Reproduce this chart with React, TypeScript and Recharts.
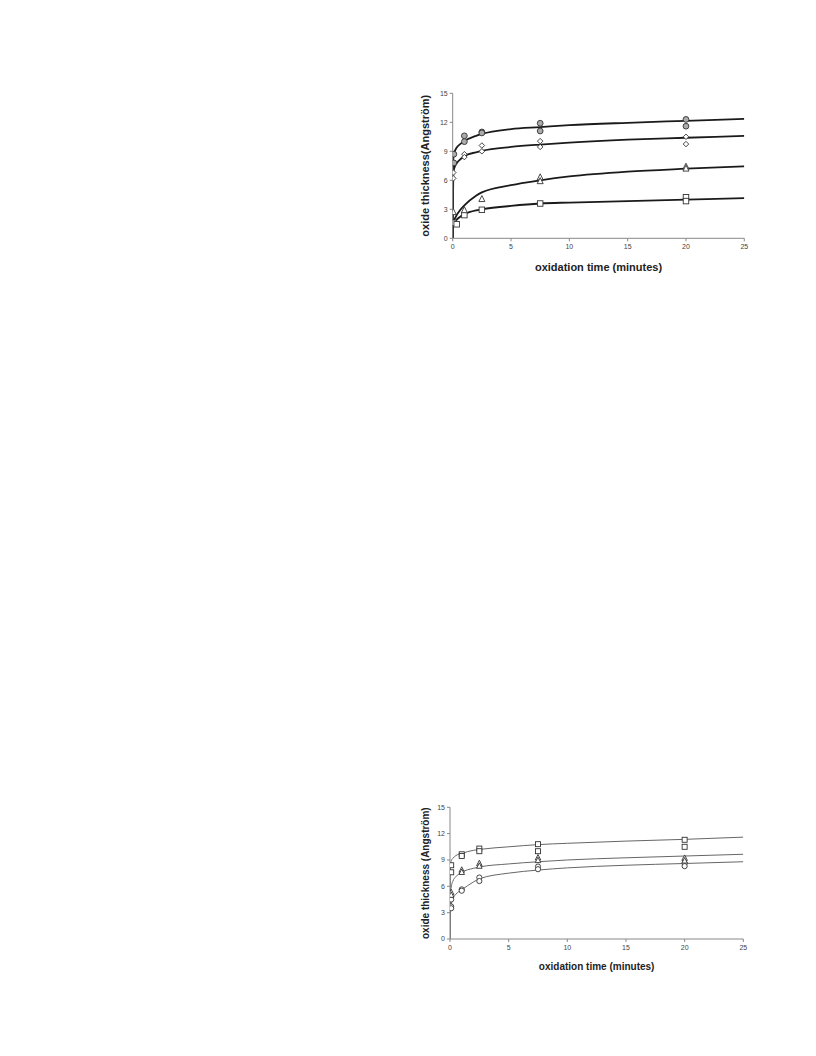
import React from "react";
import { ComposedChart, Line, Scatter, XAxis, YAxis } from "recharts";

// fitted curves, sampled along time (minutes)
const curveTimes = [0, 0.05, 0.1, 0.25, 0.5, 1, 2, 2.5, 5, 7.5, 10, 15, 20, 25];

const topCircleFit = [0, 8.2, 8.7, 9.2, 9.6, 10.05, 10.6, 10.8, 11.3, 11.5, 11.7, 11.95, 12.15, 12.35];
const topDiamondFit = [0, 6.7, 7.1, 7.6, 8.0, 8.5, 8.9, 9.05, 9.45, 9.7, 9.9, 10.2, 10.4, 10.6];
const topTriangleFit = [0, 1.5, 1.8, 2.2, 2.7, 3.4, 4.4, 4.75, 5.5, 6.0, 6.4, 6.9, 7.2, 7.45];
const topSquareFit = [0, 1.3, 1.5, 1.8, 2.1, 2.5, 2.9, 3.0, 3.35, 3.6, 3.7, 3.85, 4.0, 4.15];

const bottomSquareFit = [0, 8.4, 8.9, 9.2, 9.5, 9.75, 10.1, 10.2, 10.5, 10.75, 10.9, 11.15, 11.35, 11.6];
const bottomTriangleFit = [0, 5.3, 5.9, 6.6, 7.1, 7.6, 8.05, 8.2, 8.55, 8.8, 9.0, 9.25, 9.45, 9.65];
const bottomCircleFit = [0, 3.4, 3.9, 4.6, 5.1, 5.6, 6.5, 6.85, 7.5, 7.85, 8.1, 8.4, 8.6, 8.8];

// measured points
const topCircleT = [0.1, 0.1, 1, 1, 2.5, 2.5, 7.5, 7.5, 20, 20];
const topCircleY = [8.7, 7.8, 10.6, 10.0, 11.0, 10.9, 11.9, 11.1, 12.3, 11.6];
const topDiamondT = [0.05, 0.05, 1, 1, 2.5, 2.5, 7.5, 7.5, 20, 20];
const topDiamondY = [6.8, 6.2, 8.7, 8.4, 9.6, 9.0, 10.05, 9.45, 10.5, 9.75];
const topTriangleT = [0.05, 1, 2.5, 7.5, 7.5, 20, 20];
const topTriangleY = [2.7, 2.9, 4.05, 6.3, 5.9, 7.4, 7.2];
const topSquareT = [0.06, 0.34, 1, 2.5, 7.5, 20, 20];
const topSquareY = [1.6, 1.45, 2.4, 2.95, 3.6, 4.25, 3.85];

const bottomSquareT = [0.1, 0.1, 1, 1, 2.5, 2.5, 7.5, 7.5, 20, 20];
const bottomSquareY = [8.4, 7.6, 9.65, 9.45, 10.3, 10.0, 10.8, 10.0, 11.3, 10.5];
const bottomTriangleT = [0.1, 0.1, 1, 1, 2.5, 2.5, 7.5, 7.5, 20, 20];
const bottomTriangleY = [5.3, 5.0, 7.85, 7.6, 8.6, 8.3, 9.25, 8.95, 9.2, 8.9];
const bottomCircleT = [0.1, 0.1, 0.1, 1, 1, 2.5, 2.5, 7.5, 7.5, 20, 20];
const bottomCircleY = [4.5, 3.7, 3.5, 5.65, 5.5, 7.0, 6.6, 8.25, 7.95, 8.6, 8.3];

const xTicks = [0, 5, 10, 15, 20, 25];
const yTicks = [0, 3, 6, 9, 12, 15];

const FONT = "'Liberation Sans', Arial, sans-serif";

const pts = (t: number[], y: number[]) => t.map((x, i) => ({ x, y: y[i] }));

const circle = (fill: string, stroke: string, r: number) => (p: any) =>
  <circle cx={p.cx} cy={p.cy} r={r} fill={fill} stroke={stroke} strokeWidth={0.9} />;
const square = (stroke: string, s: number) => (p: any) =>
  <rect x={p.cx - s / 2} y={p.cy - s / 2} width={s} height={s} fill="#fff" stroke={stroke} strokeWidth={0.9} />;
const triangle = (stroke: string, s: number) => (p: any) =>
  <polygon
    points={`${p.cx},${p.cy - s * 0.6} ${p.cx - s / 2},${p.cy + s * 0.4} ${p.cx + s / 2},${p.cy + s * 0.4}`}
    fill="#fff" stroke={stroke} strokeWidth={0.9} />;
const diamond = (stroke: string, s: number) => (p: any) =>
  <polygon
    points={`${p.cx},${p.cy - s / 2} ${p.cx + s / 2},${p.cy} ${p.cx},${p.cy + s / 2} ${p.cx - s / 2},${p.cy}`}
    fill="#fff" stroke={stroke} strokeWidth={0.9} />;

interface PanelProps {
  left: number;
  top: number;
  width: number;
  height: number;
  margin: { top: number; right: number; left: number; bottom: number };
  yAxisWidth: number;
  xAxisHeight: number;
  yTitle: string;
  titleSize: number;
  yTitleDx: number;
  curves: number[][];
  curveStroke: string;
  curveWidth: number;
  markers: Array<{ data: { x: number; y: number }[]; shape: any }>;
}

function Panel(props: PanelProps) {
  const tickStyle = { fontSize: 7, fill: "#444", fontFamily: FONT };
  return (
    <div style={{ position: "absolute", left: props.left, top: props.top }}>
      <ComposedChart width={props.width} height={props.height} margin={props.margin}>
        <XAxis
          type="number"
          dataKey="x"
          domain={[0, 25]}
          ticks={xTicks}
          height={props.xAxisHeight}
          stroke="#888"
          tickSize={3}
          tickMargin={3}
          tick={tickStyle}
          allowDataOverflow
          label={{
            value: "oxidation time (minutes)",
            position: "insideBottom",
            offset: 0,
            style: { fontSize: props.titleSize, fontWeight: "bold", fill: "#222", fontFamily: FONT },
          }}
        />
        <YAxis
          type="number"
          dataKey="y"
          domain={[0, 15]}
          ticks={yTicks}
          width={props.yAxisWidth}
          stroke="#888"
          tickSize={3}
          tickMargin={2}
          tick={tickStyle}
          allowDataOverflow
          label={{
            value: props.yTitle,
            angle: -90,
            position: "center",
            dx: props.yTitleDx,
            style: { fontSize: props.titleSize, fontWeight: "bold", fill: "#222", fontFamily: FONT, textAnchor: "middle" },
          }}
        />
        {props.curves.map((c, i) => (
          <Line
            key={`fit-${i}`}
            data={pts(curveTimes, c)}
            dataKey="y"
            type="monotone"
            stroke={props.curveStroke}
            strokeWidth={props.curveWidth}
            dot={false}
            activeDot={false}
            isAnimationActive={false}
          />
        ))}
        {props.markers.map((m, i) => (
          <Scatter key={`pts-${i}`} data={m.data} dataKey="y" shape={m.shape} isAnimationActive={false} />
        ))}
      </ComposedChart>
    </div>
  );
}

export default function App() {
  const dark = "#333";
  return (
    <div style={{ position: "absolute", left: 0, top: 0, width: 816, height: 1056, background: "#fff" }}>
      <Panel
        left={400}
        top={85}
        width={360}
        height={200}
        margin={{ top: 8.3, right: 15.7, left: 0, bottom: 13.7 }}
        yAxisWidth={52.7}
        xAxisHeight={33}
        yTitle="oxide thickness(Angström)"
        titleSize={11}
        yTitleDx={-1.3}
        curves={[topCircleFit, topDiamondFit, topTriangleFit, topSquareFit]}
        curveStroke="#1a1a1a"
        curveWidth={1.8}
        markers={[
          { data: pts(topSquareT, topSquareY), shape: square(dark, 5.5) },
          { data: pts(topTriangleT, topTriangleY), shape: triangle(dark, 6) },
          { data: pts(topDiamondT, topDiamondY), shape: diamond(dark, 5.5) },
          { data: pts(topCircleT, topCircleY), shape: circle("#aaa", dark, 2.9) },
        ]}
      />
      <Panel
        left={400}
        top={795}
        width={360}
        height={190}
        margin={{ top: 12.3, right: 16.7, left: 0, bottom: 15.5 }}
        yAxisWidth={50}
        xAxisHeight={30.5}
        yTitle="oxide thickness (Angström)"
        titleSize={10}
        yTitleDx={0}
        curves={[bottomSquareFit, bottomTriangleFit, bottomCircleFit]}
        curveStroke="#666"
        curveWidth={1}
        markers={[
          { data: pts(bottomCircleT, bottomCircleY), shape: circle("#fff", dark, 2.6) },
          { data: pts(bottomTriangleT, bottomTriangleY), shape: triangle(dark, 5.5) },
          { data: pts(bottomSquareT, bottomSquareY), shape: square(dark, 5) },
        ]}
      />
    </div>
  );
}
